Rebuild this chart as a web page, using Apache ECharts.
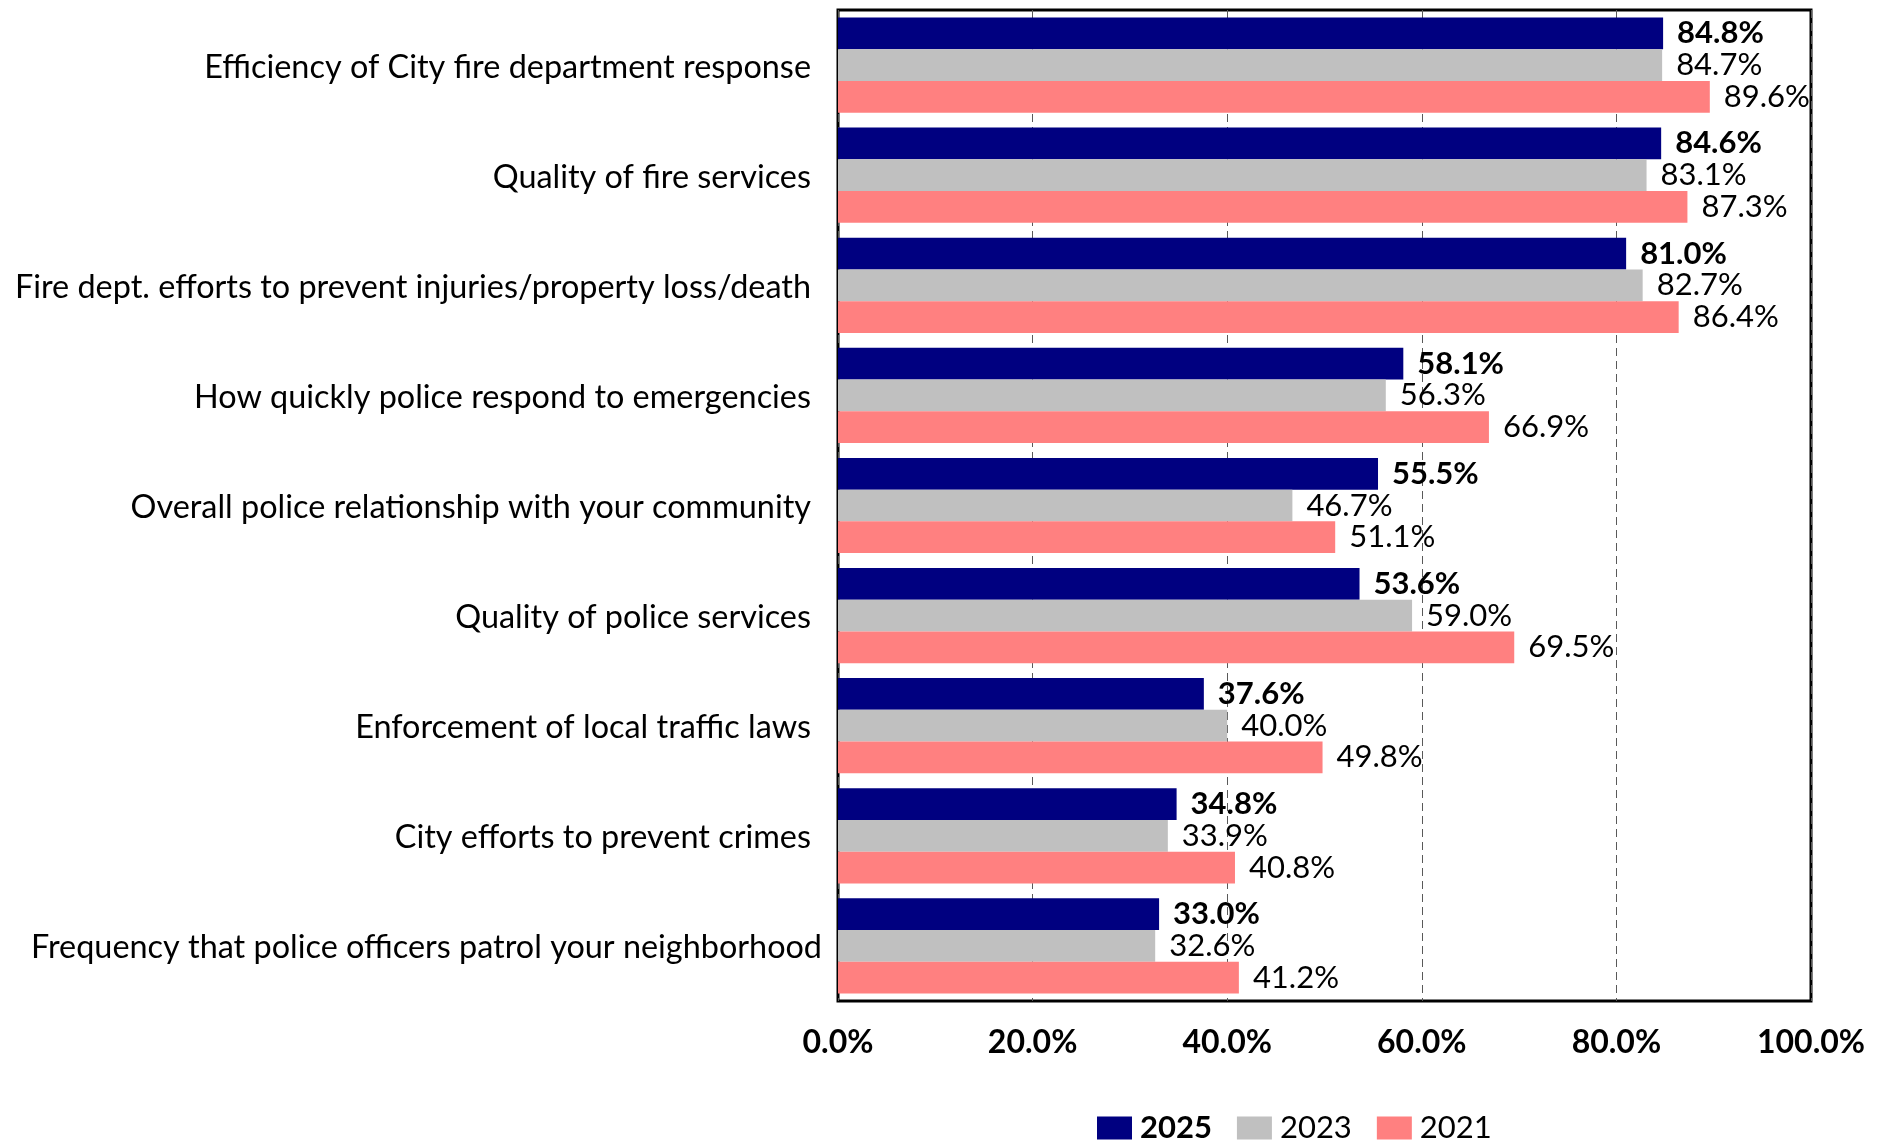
<!DOCTYPE html>
<html>
<head>
<meta charset="utf-8">
<title>Public safety satisfaction by year</title>
<script src="https://cdn.jsdelivr.net/npm/echarts@6/dist/echarts.min.js"></script>
<style>
  html, body { margin: 0; padding: 0; background: #fff; }
  #chart { width: 1890px; height: 1142px; }
</style>
</head>
<body>
<div id="chart"></div>
<script>
// Survey items, listed top to bottom
const categories = [
  'Efficiency of City fire department response',
  'Quality of fire services',
  'Fire dept. efforts to prevent injuries/property loss/death',
  'How quickly police respond to emergencies',
  'Overall police relationship with your community',
  'Quality of police services',
  'Enforcement of local traffic laws',
  'City efforts to prevent crimes',
  'Frequency that police officers patrol your neighborhood'
];

// Percent satisfied, per survey year
const values2025 = [84.8, 84.6, 81.0, 58.1, 55.5, 53.6, 37.6, 34.8, 33.0];
const values2023 = [84.7, 83.1, 82.7, 56.3, 46.7, 59.0, 40.0, 33.9, 32.6];
const values2021 = [89.6, 87.3, 86.4, 66.9, 51.1, 69.5, 49.8, 40.8, 41.2];

const years = ['2025', '2023', '2021'];
const xTicks = [0, 20, 40, 60, 80, 100];

const FONT = 'Lato';
const CAT_SIZE = 32.4;
const pct = v => v.toFixed(1) + '%';

function barSeries(name, data, color, bold) {
  return {
    name: name,
    type: 'bar',
    data: data,
    barGap: '0%',
    barCategoryGap: '13.5%',
    itemStyle: { color: color },
    label: {
      show: true,
      position: 'right',
      distance: 14,
      formatter: p => pct(p.value),
      fontFamily: FONT,
      fontSize: 31,
      fontWeight: bold ? 'bold' : 'normal',
      color: '#000'
    }
  };
}

const chart = echarts.init(document.getElementById('chart'), null, { renderer: 'canvas' });

chart.setOption({
  animation: false,
  backgroundColor: '#fff',
  grid: {
    left: 838,
    top: 10,
    width: 973,
    height: 991,
    show: true,
    borderColor: '#000',
    borderWidth: 3,
    containLabel: false
  },
  xAxis: {
    type: 'value',
    min: xTicks[0],
    max: xTicks[xTicks.length - 1],
    interval: 20,
    axisLine: { show: false },
    axisTick: { show: false },
    axisLabel: {
      margin: 26,
      formatter: v => pct(v),
      fontFamily: FONT,
      fontSize: 32,
      fontWeight: 'bold',
      color: '#000'
    },
    splitLine: {
      show: true,
      lineStyle: { color: '#595959', width: 1, type: [8, 5] }
    }
  },
  yAxis: {
    type: 'category',
    inverse: true,
    data: categories,
    axisLine: { show: false },
    axisTick: { show: false },
    axisLabel: {
      margin: 16,
      fontFamily: FONT,
      fontSize: CAT_SIZE,
      color: '#000',
      // the last, longest item sits a little closer to the plot
      formatter: (v, i) => i === categories.length - 1 ? '{b|' + v + '}' : '{a|' + v + '}',
      rich: {
        a: { fontFamily: FONT, fontSize: CAT_SIZE, color: '#000', padding: [4, 11, 0, 0] },
        b: { fontFamily: FONT, fontSize: CAT_SIZE, color: '#000', padding: [4, 0, 0, 0] }
      }
    }
  },
  legend: {
    left: 1097,
    top: 1112,
    padding: 0,
    itemWidth: 35,
    itemHeight: 23,
    itemGap: 25,
    icon: 'rect',
    textStyle: {
      fontFamily: FONT,
      fontSize: 31,
      color: '#000',
      lineHeight: 32,
      padding: [0, 0, 0, 3]
    },
    data: [
      { name: years[0], textStyle: { fontWeight: 'bold' } },
      years[1],
      years[2]
    ]
  },
  series: [
    barSeries(years[0], values2025, '#000080', true),
    barSeries(years[1], values2023, '#C0C0C0', false),
    barSeries(years[2], values2021, '#FF8080', false)
  ]
});
</script>
</body>
</html>
